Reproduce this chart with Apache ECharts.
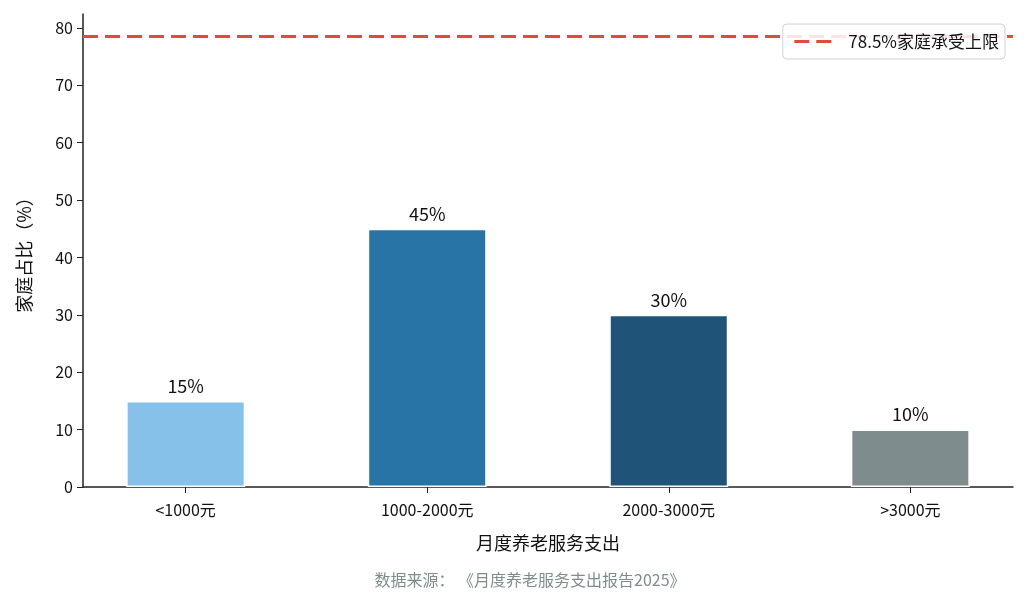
<!DOCTYPE html>
<html><head><meta charset="utf-8">
<script src="https://cdn.jsdelivr.net/npm/echarts@6/dist/echarts.min.js"></script>
<style>html,body{margin:0;padding:0;background:#fff}#c{width:1028px;height:606px}</style>
</head><body><div id="c"></div>
<script>
const categories = ['<1000元', '1000-2000元', '2000-3000元', '>3000元'];
const shares = [15, 45, 30, 10];
const barColors = ['#85C1E9', '#2874A6', '#1F5478', '#7F8C8D'];
const limitValue = 78.5;
const limitName = '78.5%家庭承受上限';
const yTicks = [0, 10, 20, 30, 40, 50, 60, 70, 80];
const FONT = '"Noto Sans CJK SC", "Noto Sans", sans-serif';
const catIdx = categories.map((_, i) => i);

const chart = echarts.init(document.getElementById('c'));
chart.setOption({
  animation: false,
  textStyle: { fontFamily: FONT },
  grid: { left: 83, right: 15, top: 14, bottom: 119 },
  legend: {
    right: 23, top: 24, z: 10,
    data: [limitName],
    backgroundColor: 'rgba(255,255,255,0.85)',
    borderColor: '#d0d0d0', borderWidth: 1, borderRadius: 4,
    padding: [9, 6, 9, 10],
    itemWidth: 37, itemHeight: 14, itemGap: 8,
    itemStyle: { opacity: 0 },
    lineStyle: { color: '#E04B3A', width: 3, type: [15, 7] },
    textStyle: { fontSize: 17, color: '#111', fontFamily: FONT, padding: [0, 0, 0, 12] }
  },
  xAxis: {
    type: 'value', min: -0.425, max: 3.425,
    name: '月度养老服务支出', nameLocation: 'middle', nameGap: 47,
    nameTextStyle: { fontSize: 18, color: '#111', fontFamily: FONT },
    axisLine: { show: true, onZero: false, lineStyle: { color: '#222', width: 1.5 } },
    axisTick: { show: true, length: 6, customValues: catIdx, lineStyle: { color: '#222' } },
    axisLabel: { fontSize: 16, color: '#111', margin: 15, customValues: catIdx,
      formatter: v => categories[Math.round(v)] },
    splitLine: { show: false }
  },
  yAxis: {
    type: 'value', min: 0, max: 82.425,
    name: '家庭占比（%）', nameLocation: 'middle', nameGap: 50,
    nameTextStyle: { fontSize: 18, color: '#111', fontFamily: FONT },
    axisLine: { show: true, onZero: false, lineStyle: { color: '#222', width: 1.5 } },
    axisTick: { show: true, length: 6, customValues: yTicks, lineStyle: { color: '#222' } },
    axisLabel: { fontSize: 16, color: '#111', margin: 10, customValues: yTicks },
    splitLine: { show: false }
  },
  series: [
    {
      type: 'bar', name: '家庭占比', barWidth: 119,
      data: shares.map((v, i) => ({ value: [i, v], itemStyle: { color: barColors[i] } })),
      itemStyle: { borderColor: '#fff', borderWidth: 1.5 },
      label: { show: true, position: 'top', distance: 6, fontSize: 18, color: '#111',
        formatter: p => p.value[1] + '%' }
    },
    {
      type: 'line', name: limitName, data: [], symbol: 'none',
      itemStyle: { color: '#E04B3A' },
      lineStyle: { color: '#E04B3A', width: 3, type: [15, 7] },
      markLine: {
        silent: true, symbol: 'none', label: { show: false },
        lineStyle: { color: '#E04B3A', width: 3, type: [15, 7] },
        data: [{ yAxis: limitValue }]
      }
    }
  ],
  graphic: [{
    type: 'text', x: 530, y: 572,
    style: { text: '数据来源： 《月度养老服务支出报告2025》', fontSize: 16, fill: '#7f8c8d',
      fontFamily: FONT, align: 'center' }
  }]
});
</script></body></html>
